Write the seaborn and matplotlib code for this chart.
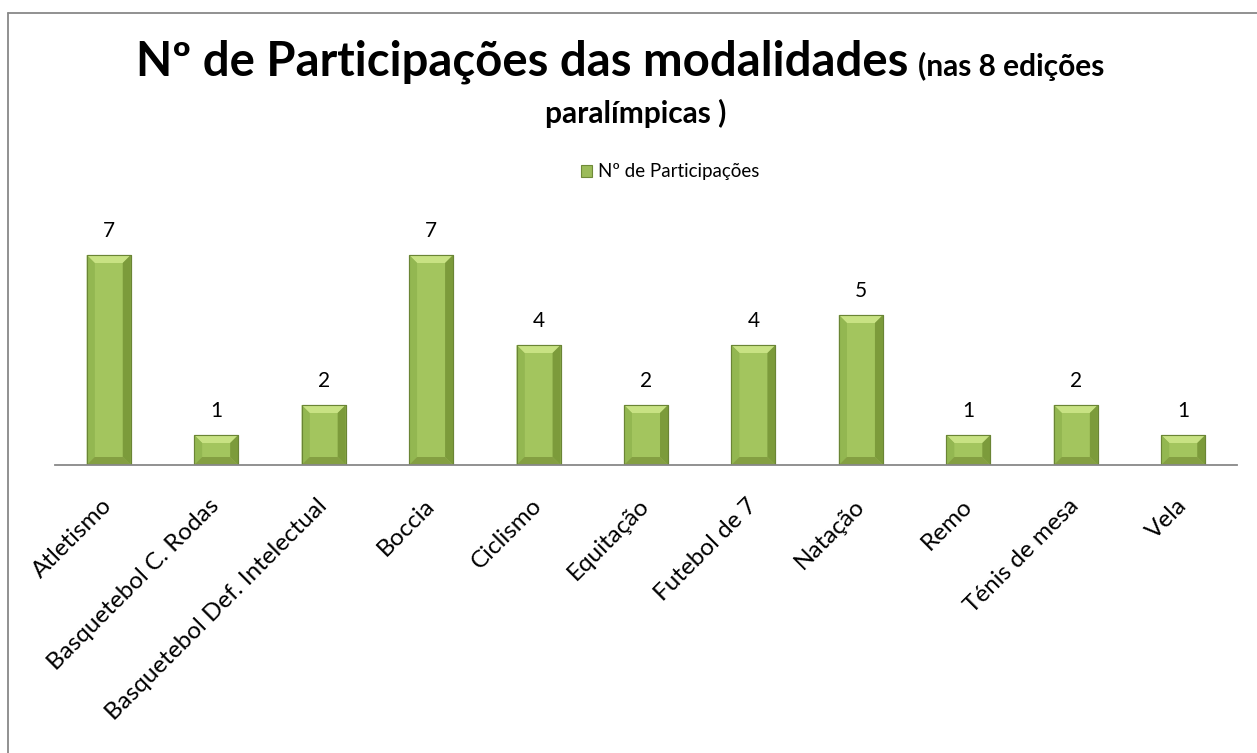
import matplotlib
matplotlib.use("Agg")
import matplotlib.pyplot as plt
from matplotlib.patches import Polygon
import seaborn as sns
import pandas as pd

categories = ["Atletismo", "Basquetebol C. Rodas", "Basquetebol Def. Intelectual",
              "Boccia", "Ciclismo", "Equitação", "Futebol de 7", "Natação",
              "Remo", "Ténis de mesa", "Vela"]
values = [7, 1, 2, 7, 4, 2, 4, 5, 1, 2, 1]
series_name = "Nº de Participações"
title_main = "Nº de Participações das modalidades"
title_small_1 = "(nas 8 edições"
title_small_2 = "paralímpicas )"

df = pd.DataFrame({"cat": categories, "val": values})

sns.set_theme(style="white")
plt.rcParams["font.family"] = ["Lato", "DejaVu Sans"]
plt.rcParams["text.color"] = "black"
plt.rcParams["xtick.color"] = "black"
plt.rcParams["xtick.labelcolor"] = "black"

W, H = 1257, 753
fig = plt.figure(figsize=(W / 100, H / 100), dpi=100)
ax = fig.add_axes([55 / W, (H - 465) / H, (1237 - 55) / W, 240 / H])

face = "#9BBB59"
sns.barplot(data=df, x="cat", y="val", color=face, width=0.41, ax=ax,
            saturation=1, label=series_name, edgecolor="#6F8A38", linewidth=0.8)
ax.set_ylim(0, 8)
ax.set_xlim(-0.5, len(categories) - 0.5)

# bevel effect derived from the drawn bars
fig.canvas.draw()
inv = ax.transData.inverted()
def px_to_data(dx, dy):
    p0 = inv.transform((0, 0))
    p1 = inv.transform((dx, dy))
    return p1[0] - p0[0], p1[1] - p0[1]
bxd, byd = px_to_data(8, 8)
for p in list(ax.patches):
    x0, y0 = p.get_x(), p.get_y()
    w, h = p.get_width(), p.get_height()
    x1, y1 = x0 + w, y0 + h
    b = min(bxd, w / 2)
    by = min(byd, h / 2)
    z = p.get_zorder() + 0.1
    polys = [
        ([(x0 + b, y0 + by), (x1 - b, y0 + by), (x1 - b, y1 - by), (x0 + b, y1 - by)], "#A3C55E"),
        ([(x0, y1), (x1, y1), (x1 - b, y1 - by), (x0 + b, y1 - by)], "#C8E283"),
        ([(x0, y0), (x0, y1), (x0 + b, y1 - by), (x0 + b, y0 + by)], "#93B751"),
        ([(x1, y0), (x1, y1), (x1 - b, y1 - by), (x1 - b, y0 + by)], "#7C9B3B"),
        ([(x0, y0), (x1, y0), (x1 - b, y0 + by), (x0 + b, y0 + by)], "#849F42"),
    ]
    for pts, c in polys:
        ax.add_patch(Polygon(pts, closed=True, facecolor=c, edgecolor="none", zorder=z))
    ax.add_patch(Polygon([(x0, y0), (x1, y0), (x1, y1), (x0, y1)], closed=True,
                         facecolor="none", edgecolor="#6A8535", linewidth=0.8,
                         zorder=z + 0.1))

ax.bar_label(ax.containers[0], labels=[str(v) for v in values], padding=10,
             fontsize=15, color="black")

for s in ["top", "right", "left"]:
    ax.spines[s].set_visible(False)
ax.spines["bottom"].set_color("#888888")
ax.spines["bottom"].set_linewidth(1.3)
ax.spines["bottom"].set_zorder(5)
ax.set_yticks([])
ax.set_xlabel("")
ax.set_ylabel("")
ax.tick_params(axis="x", length=0, pad=27)
ax.set_xticks(range(len(categories)))
ax.set_xticklabels(categories, rotation=45, ha="right", va="center",
                   rotation_mode="anchor", fontsize=17.5, color="black")

leg = ax.legend(loc="center", bbox_to_anchor=(670 / W, 1 - 172 / H),
                bbox_transform=fig.transFigure, frameon=False, fontsize=13.5,
                handlelength=0.6, handleheight=0.6, handletextpad=0.3)
for t in leg.get_texts():
    t.set_color("black")

fig.text(908 / W, 1 - 76 / H, title_main, ha="right", va="baseline",
         fontsize=34, fontweight="bold", color="black")
fig.text(918 / W, 1 - 76 / H, title_small_1, ha="left", va="baseline",
         fontsize=21.5, fontweight="bold", color="black")
fig.text(636 / W, 1 - 123 / H, title_small_2, ha="center", va="baseline",
         fontsize=21.5, fontweight="bold", color="black")

# chart area border (left and top)
fig.add_artist(plt.Line2D([8 / W, 8 / W], [0, 1 - 13 / H], transform=fig.transFigure,
                          color="#888888", linewidth=1.3))
fig.add_artist(plt.Line2D([8 / W, 1], [1 - 13 / H, 1 - 13 / H], transform=fig.transFigure,
                          color="#888888", linewidth=1.3))

fig.savefig("out.png", dpi=100, facecolor="white")
